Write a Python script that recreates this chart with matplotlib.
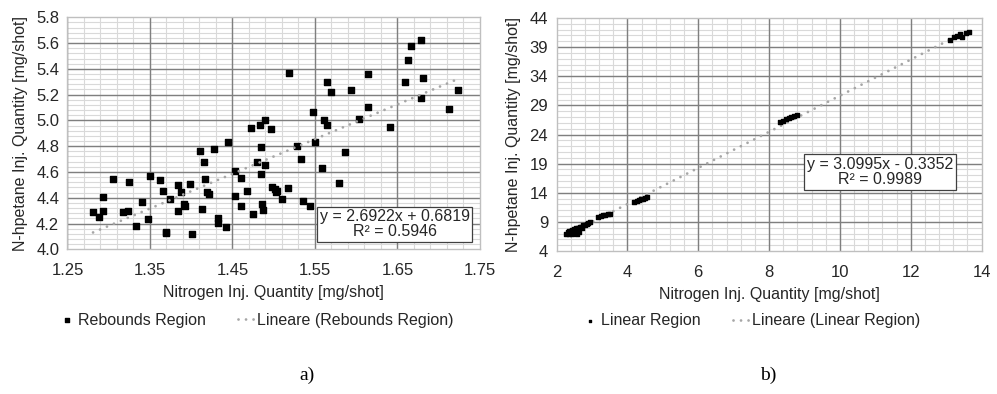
import numpy as np
import matplotlib
matplotlib.use("Agg")
import matplotlib.pyplot as plt
from matplotlib.ticker import MultipleLocator, FormatStrFormatter

plt.rcParams['font.family'] = ['Liberation Sans', 'DejaVu Sans']

# Rebounds region: nitrogen vs n-heptane injected quantity [mg/shot]
reb_n2 = [1.281, 1.288, 1.293, 1.293, 1.305, 1.317, 1.323, 1.325, 1.340, 1.333,
          1.348, 1.350, 1.362, 1.366, 1.369, 1.370, 1.374, 1.384, 1.384, 1.388,
          1.391, 1.393, 1.399, 1.401, 1.411, 1.416, 1.413, 1.417, 1.419, 1.422,
          1.428, 1.432, 1.433, 1.442, 1.444, 1.453, 1.453, 1.460, 1.460, 1.468,
          1.472, 1.483, 1.490, 1.497, 1.485, 1.480, 1.490, 1.485, 1.475, 1.486,
          1.487, 1.4985, 1.501, 1.503, 1.5045, 1.510, 1.517, 1.518, 1.528, 1.533,
          1.536, 1.544, 1.548, 1.550, 1.559, 1.561, 1.564, 1.564, 1.570, 1.579,
          1.587, 1.594, 1.603, 1.614, 1.614, 1.641, 1.659, 1.663, 1.667, 1.679,
          1.681, 1.679, 1.712, 1.723]
reb_hep = [4.287, 4.253, 4.297, 4.408, 4.543, 4.289, 4.297, 4.522, 4.365, 4.183,
           4.233, 4.566, 4.538, 4.455, 4.132, 4.127, 4.393, 4.501, 4.297, 4.442,
           4.349, 4.334, 4.504, 4.121, 4.760, 4.677, 4.310, 4.543, 4.445, 4.432,
           4.781, 4.204, 4.243, 4.173, 4.835, 4.605, 4.416, 4.556, 4.338, 4.455,
           4.943, 4.962, 5.001, 4.933, 4.796, 4.677, 4.652, 4.582, 4.276, 4.354,
           4.303, 4.485, 4.465, 4.445, 4.450, 4.388, 4.478, 5.368, 4.799, 4.703,
           4.372, 4.336, 5.065, 4.835, 4.633, 5.001, 4.962, 5.298, 5.218, 4.517,
           4.757, 5.236, 5.011, 5.363, 5.104, 4.951, 5.298, 5.466, 5.577, 5.621,
           5.331, 5.176, 5.091, 5.236]
reb_slope, reb_icpt, reb_r2 = 2.6922, 0.6819, 0.5946

# Linear region
lin_n2 = [2.28, 2.31, 2.34, 2.36, 2.38, 2.40, 2.42, 2.45, 2.47, 2.50, 2.52, 2.55,
          2.57, 2.60, 2.62, 2.65, 2.68, 2.72, 2.75, 2.80, 2.85, 2.90, 2.95, 2.44,
          2.58, 2.63,
          3.18, 3.25, 3.32, 3.38, 3.44, 3.50,
          4.20, 4.26, 4.32, 4.38, 4.44, 4.50, 4.55,
          8.32, 8.40, 8.48, 8.55, 8.62, 8.70, 8.78,
          13.12, 13.22, 13.30, 13.38, 13.46, 13.55, 13.64]
lin_hep = [6.9, 7.3, 7.0, 7.4, 7.2, 7.5, 7.1, 7.6, 7.3, 7.8, 7.4, 7.9,
           7.5, 8.0, 7.7, 8.1, 8.2, 8.0, 8.4, 8.5, 8.6, 8.8, 9.0, 6.9,
           6.9, 7.2,
           9.8, 10.0, 10.1, 10.2, 10.3, 10.4,
           12.5, 12.6, 12.8, 12.9, 13.0, 13.1, 13.2,
           26.2, 26.4, 26.6, 26.8, 27.0, 27.2, 27.4,
           40.3, 40.7, 40.9, 41.3, 40.8, 41.4, 41.6]
lin_slope, lin_icpt, lin_r2 = 3.0995, -0.3352, 0.9989

fig = plt.figure(figsize=(9.97, 3.94), dpi=100)
ax1 = fig.add_axes([0.0677, 0.3673, 0.4137, 0.5888])
ax2 = fig.add_axes([0.5582, 0.3629, 0.4263, 0.5914])

MAJOR = '#7f7f7f'
MINOR = '#d9d9d9'
TREND = '#a6a6a6'
TEXT = '#262626'
TICKFS = 12
LABFS = 11.5


def grid_lines(ax, locator, lim, vertical, color, lw, z):
    vals = [v for v in locator.tick_values(*lim) if lim[0] < v < lim[1]]
    if vertical:
        ax.vlines(vals, 0, 1, transform=ax.get_xaxis_transform(),
                  colors=color, linewidth=lw, zorder=z)
    else:
        ax.hlines(vals, 0, 1, transform=ax.get_yaxis_transform(),
                  colors=color, linewidth=lw, zorder=z)


def style(ax, xlim, ylim, xmaj, xmin, ymaj, ymin, xfmt, yfmt):
    ax.set_xlim(*xlim)
    ax.set_ylim(*ylim)
    xM, xm = MultipleLocator(*xmaj), MultipleLocator(*xmin)
    yM, ym = MultipleLocator(*ymaj), MultipleLocator(*ymin)
    ax.xaxis.set_major_locator(xM)
    ax.yaxis.set_major_locator(yM)
    ax.xaxis.set_major_formatter(FormatStrFormatter(xfmt))
    ax.yaxis.set_major_formatter(FormatStrFormatter(yfmt))
    # light minor grid first, darker major grid on top
    grid_lines(ax, xm, xlim, True, MINOR, 0.8, 0.5)
    grid_lines(ax, ym, ylim, False, MINOR, 0.8, 0.5)
    grid_lines(ax, xM, xlim, True, MAJOR, 1.0, 0.8)
    grid_lines(ax, yM, ylim, False, MAJOR, 1.0, 0.8)
    ax.tick_params(which='both', length=0, labelsize=TICKFS, labelcolor=TEXT)
    ax.tick_params(axis='x', pad=10)
    ax.tick_params(axis='y', pad=6)
    for s in ax.spines.values():
        s.set_color('#bfbfbf')
        s.set_linewidth(1.0)
    ax.set_xlabel('Nitrogen Inj. Quantity [mg/shot]', fontsize=LABFS,
                  color=TEXT, labelpad=5)
    ax.set_ylabel('N-hpetane Inj. Quantity [mg/shot]', fontsize=LABFS,
                  color=TEXT, labelpad=6)


style(ax1, (1.25, 1.75), (4.0, 5.8), (0.1, 0.05), (0.02, 0.01), (0.2,), (0.04,),
      '%.2f', '%.1f')
style(ax2, (2, 14), (4, 44), (2,), (0.4,), (5, 4), (1,), '%d', '%d')

# Rebounds region scatter + linear trend
s1 = ax1.scatter(reb_n2, reb_hep, marker='s', s=18, color='black', zorder=3,
                 label='Rebounds Region')
xt = np.array([min(reb_n2), max(reb_n2)])
l1, = ax1.plot(xt, reb_slope * xt + reb_icpt, color=TREND, linewidth=2.0,
               linestyle=(0, (0.01, 2.7)), dash_capstyle='round', zorder=4,
               label='Lineare (Rebounds Region)')
ax1.text(0.793, 0.107, f'y = {reb_slope:.4f}x + {reb_icpt:.4f}\nR² = {reb_r2:.4f}',
         transform=ax1.transAxes, ha='center', va='center', fontsize=LABFS,
         color=TEXT, linespacing=1.0, zorder=5,
         bbox=dict(boxstyle='square,pad=0.18', fc='white', ec='#404040', lw=0.9))

# Linear region scatter + linear trend
s2 = ax2.scatter(lin_n2, lin_hep, marker='s', s=7, color='black', zorder=3,
                 label='Linear Region')
xt2 = np.array([min(lin_n2), max(lin_n2)])
l2, = ax2.plot(xt2, lin_slope * xt2 + lin_icpt, color=TREND, linewidth=2.0,
               linestyle=(0, (0.01, 2.7)), dash_capstyle='round', zorder=2,
               label='Lineare (Linear Region)')
sign = '-' if lin_icpt < 0 else '+'
ax2.text(0.762, 0.339, f'y = {lin_slope:.4f}x {sign} {abs(lin_icpt):.4f}\nR² = {lin_r2:.4f}',
         transform=ax2.transAxes, ha='center', va='center', fontsize=LABFS,
         color=TEXT, linespacing=1.0, zorder=5,
         bbox=dict(boxstyle='square,pad=0.18', fc='white', ec='#404040', lw=0.9))

leg_kw = dict(loc='center', ncol=2, frameon=False, fontsize=LABFS,
              handlelength=1.0, handletextpad=0.2, columnspacing=2.0,
              labelcolor=TEXT, markerscale=0.7)
fig.legend(handles=[s1, l1], bbox_to_anchor=(256 / 997, 1 - 320 / 394), **leg_kw)
fig.legend(handles=[s2, l2], bbox_to_anchor=(751 / 997, 1 - 321 / 394), **leg_kw)

fig.text(307 / 997, 1 - 375 / 394, 'a)', ha='center', va='center',
         fontsize=14, family='Liberation Serif')
fig.text(768 / 997, 1 - 375 / 394, 'b)', ha='center', va='center',
         fontsize=14, family='Liberation Serif')

fig.savefig('out.png', dpi=100)
